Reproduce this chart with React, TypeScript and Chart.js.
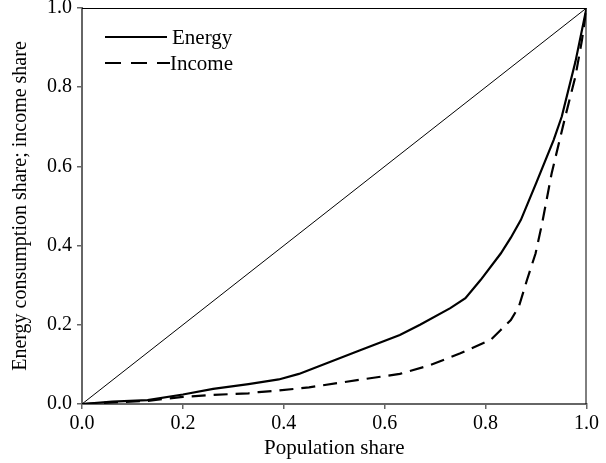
import React, { useEffect, useRef } from "react";
import { Chart, registerables } from "chart.js";

Chart.register(...registerables);

const energyX = [0, 0.06, 0.13, 0.2, 0.26, 0.33, 0.39, 0.43, 0.55, 0.63, 0.67, 0.73, 0.76, 0.79, 0.83, 0.85, 0.87, 0.9, 0.935, 0.951, 0.978, 1];
const energyY = [0, 0.006, 0.01, 0.024, 0.038, 0.05, 0.062, 0.076, 0.135, 0.174, 0.2, 0.242, 0.267, 0.313, 0.38, 0.42, 0.465, 0.557, 0.667, 0.726, 0.864, 1];

const incomeX = [0, 0.06, 0.13, 0.2, 0.26, 0.33, 0.35, 0.39, 0.45, 0.55, 0.63, 0.69, 0.75, 0.81, 0.83, 0.85, 0.866, 0.882, 0.899, 0.912, 0.931, 0.958, 0.978, 0.991, 1];
const incomeY = [0, 0.004, 0.008, 0.018, 0.023, 0.027, 0.03, 0.034, 0.042, 0.061, 0.076, 0.098, 0.128, 0.162, 0.187, 0.212, 0.246, 0.313, 0.38, 0.456, 0.583, 0.726, 0.827, 0.919, 1];

const equalityX = [0, 1];
const equalityY = [0, 1];

const legendLabels = ["Energy", "Income"];
const xTitle = "Population share";
const yTitle = "Energy consumption share; income share";

const FONT = "'Liberation Serif', 'Times New Roman', serif";

const toPoints = (xs: number[], ys: number[]) => xs.map((x, i) => ({ x, y: ys[i] }));

const framePlugin = {
  id: "frameAndLegend",
  afterDraw(chart: any) {
    const { ctx, chartArea } = chart;
    ctx.save();
    ctx.strokeStyle = "#000";
    ctx.lineWidth = 1;
    ctx.beginPath();
    ctx.moveTo(chartArea.left, chartArea.top + 0.5);
    ctx.lineTo(chartArea.right, chartArea.top + 0.5);
    ctx.moveTo(chartArea.right - 0.5, chartArea.top);
    ctx.lineTo(chartArea.right - 0.5, chartArea.bottom);
    ctx.stroke();

    const lx0 = chartArea.left + 23;
    const lx1 = chartArea.left + 85;
    const rows = [chartArea.top + 29, chartArea.top + 55];
    ctx.lineWidth = 2.2;
    ctx.strokeStyle = "#000";
    ctx.setLineDash([]);
    ctx.beginPath();
    ctx.moveTo(lx0, rows[0]);
    ctx.lineTo(lx1, rows[0]);
    ctx.stroke();
    ctx.setLineDash([16, 10]);
    ctx.beginPath();
    ctx.moveTo(lx0, rows[1]);
    ctx.lineTo(lx1 + 3, rows[1]);
    ctx.stroke();
    ctx.setLineDash([]);
    ctx.fillStyle = "#000";
    ctx.font = `21px ${FONT}`;
    ctx.textBaseline = "middle";
    ctx.textAlign = "left";
    ctx.fillText(legendLabels[0], lx1 + 5, rows[0] + 1);
    ctx.fillText(legendLabels[1], lx1 + 3, rows[1] + 1);
    ctx.restore();
  },
};

export default function App() {
  const canvasRef = useRef<HTMLCanvasElement | null>(null);

  useEffect(() => {
    if (!canvasRef.current) return;
    const chart = new Chart(canvasRef.current, {
      type: "scatter",
      data: {
        datasets: [
          {
            label: "Equality",
            data: toPoints(equalityX, equalityY),
            showLine: true,
            borderColor: "#000",
            borderWidth: 1,
            pointRadius: 0,
            fill: false,
          },
          {
            label: legendLabels[0],
            data: toPoints(energyX, energyY),
            showLine: true,
            borderColor: "#000",
            borderWidth: 2.2,
            pointRadius: 0,
            fill: false,
          },
          {
            label: legendLabels[1],
            data: toPoints(incomeX, incomeY),
            showLine: true,
            borderColor: "#000",
            borderWidth: 2.2,
            borderDash: [14, 8],
            pointRadius: 0,
            fill: false,
          },
        ],
      },
      options: {
        responsive: false,
        animation: false,
        layout: { padding: { top: 8, right: 18, left: 0, bottom: 0 } },
        plugins: {
          legend: { display: false },
          tooltip: { enabled: false },
        },
        scales: {
          x: {
            type: "linear",
            min: 0,
            max: 1,
            afterFit: (scale: any) => {
              scale.height = 59;
            },
            grid: {
              drawOnChartArea: false,
              drawTicks: true,
              tickLength: 5,
              color: "#666",
              lineWidth: 1.5,
            },
            border: { display: true, color: "#666", width: 2 },
            ticks: {
              stepSize: 0.2,
              color: "#000",
              padding: 7,
              font: { family: FONT, size: 20, lineHeight: 0.8 },
              callback: (v: any) => Number(v).toFixed(1),
              maxRotation: 0,
            },
            title: {
              display: true,
              text: xTitle,
              color: "#000",
              font: { family: FONT, size: 21, lineHeight: 1.2 },
              padding: { top: 0, bottom: 2 },
            },
          },
          y: {
            type: "linear",
            min: 0,
            max: 1,
            afterFit: (scale: any) => {
              scale.width = 82;
            },
            grid: {
              drawOnChartArea: false,
              drawTicks: true,
              tickLength: 5,
              color: "#666",
              lineWidth: 1.5,
            },
            border: { display: true, color: "#666", width: 2 },
            ticks: {
              stepSize: 0.2,
              color: "#000",
              padding: 5,
              font: { family: FONT, size: 20, lineHeight: 0.3 },
              callback: (v: any) => Number(v).toFixed(1),
            },
            title: {
              display: true,
              text: yTitle,
              color: "#000",
              font: { family: FONT, size: 20, lineHeight: 1.2 },
              padding: { top: 9, bottom: 0 },
            },
          },
        },
      },
      plugins: [framePlugin],
    });
    return () => chart.destroy();
  }, []);

  return (
    <div style={{ position: "absolute", left: 0, top: 0, width: 606, height: 463, background: "#fff" }}>
      <canvas ref={canvasRef} width={606} height={463} />
    </div>
  );
}
